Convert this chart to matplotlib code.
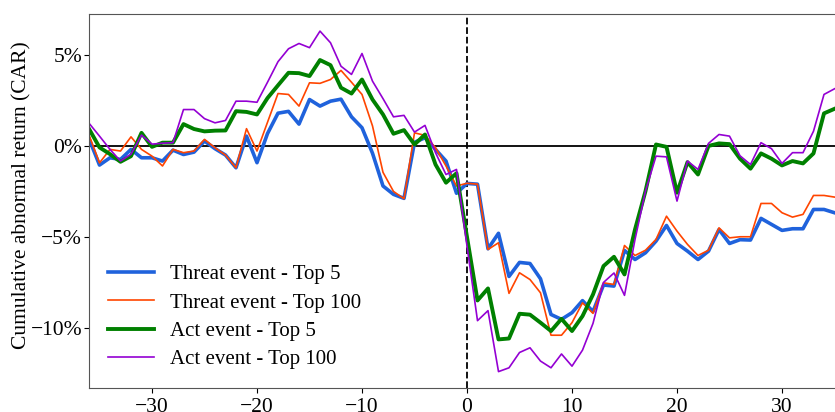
import matplotlib
matplotlib.use("Agg")
import matplotlib.pyplot as plt
from matplotlib.ticker import FuncFormatter

# Event window (days relative to event)
days = list(range(-36, 36))

# Cumulative abnormal returns in percent
threat_top5 = [
    0.4, -1.05, -0.65, -0.74, -0.19, -0.65, -0.65, -0.83, -0.23, -0.47,
    -0.34, 0.27, -0.15, -0.5, -1.2, 0.54, -0.92, 0.68, 1.8, 1.9,
    1.2, 2.55, 2.19, 2.46, 2.57, 1.6, 1.0, -0.4, -2.2, -2.66,
    -2.88, 0.2, 0.45, -0.19, -0.83, -2.6, -2.06, -2.1, -5.65, -4.8,
    -7.17, -6.4, -6.46, -7.3, -9.26, -9.53, -9.16, -8.5, -9.1, -7.64,
    -7.7, -5.74, -6.24, -5.87, -5.23, -4.37, -5.36, -5.78, -6.24, -5.78,
    -4.59, -5.36, -5.15, -5.17, -3.98, -4.31, -4.64, -4.55, -4.55, -3.49,
    -3.49, -3.67,
]
threat_top100 = [
    0.6, -0.93, -0.19, -0.28, 0.5, -0.19, -0.56, -1.1, -0.19, -0.37,
    -0.28, 0.36, -0.1, -0.5, -1.2, 0.95, -0.28, 1.3, 2.88, 2.83,
    2.19, 3.47, 3.44, 3.65, 4.15, 3.5, 2.83, 1.1, -1.45, -2.5,
    -2.9, 0.72, 0.58, -0.1, -1.1, -2.2, -2.05, -2.1, -5.69, -5.32,
    -8.1, -6.97, -7.34, -8.07, -10.4, -10.4, -9.71, -8.62, -9.2, -7.52,
    -7.61, -5.47, -6.02, -5.73, -5.14, -3.86, -4.68, -5.41, -6.02, -5.73,
    -4.5, -5.05, -4.99, -4.99, -3.16, -3.16, -3.67, -3.91, -3.76, -2.72,
    -2.72, -2.81,
]
act_top5 = [
    0.94, -0.08, -0.45, -0.87, -0.56, 0.72, -0.05, 0.18, 0.18, 1.2,
    0.93, 0.8, 0.84, 0.85, 1.91, 1.87, 1.73, 2.63, 3.33, 4.02,
    4.0, 3.84, 4.72, 4.44, 3.2, 2.88, 3.65, 2.55, 1.73, 0.67,
    0.87, 0.08, 0.63, -1.02, -2.02, -1.5, -5.0, -8.49, -7.83, -10.63,
    -10.58, -9.22, -9.27, -9.71, -10.17, -9.5, -10.17, -9.35, -8.16, -6.6,
    -6.09, -7.06, -4.59, -2.48, 0.08, -0.05, -2.57, -0.89, -1.57, 0.0,
    0.14, 0.1, -0.7, -1.25, -0.41, -0.7, -1.07, -0.83, -0.96, -0.41,
    1.79, 2.04,
]
act_top100 = [
    1.25, 0.54, -0.19, -0.83, -0.45, 0.6, 0.1, 0.15, 0.18, 2.0,
    2.0, 1.5, 1.27, 1.4, 2.46, 2.46, 2.4, 3.5, 4.63, 5.34,
    5.63, 5.4, 6.31, 5.67, 4.38, 3.93, 5.08, 3.56, 2.6, 1.6,
    1.68, 0.76, 1.13, -0.37, -1.57, -1.29, -5.5, -9.6, -9.05, -12.4,
    -12.19, -11.35, -11.09, -11.82, -12.19, -11.43, -12.1, -11.22, -9.75, -7.5,
    -6.98, -8.21, -5.14, -2.48, -0.56, -0.6, -3.03, -0.83, -1.29, 0.14,
    0.63, 0.54, -0.54, -1.02, 0.18, -0.15, -0.96, -0.37, -0.37, 0.81,
    2.83, 3.14,
]

series_labels = [
    "Threat event - Top 5",
    "Threat event - Top 100",
    "Act event - Top 5",
    "Act event - Top 100",
]
x_ticks = [-30, -20, -10, 0, 10, 20, 30]
y_ticks = [-10, -5, 0, 5]

plt.rcParams["font.family"] = ["Liberation Serif", "DejaVu Serif"]
plt.rcParams["axes.unicode_minus"] = True

fig = plt.figure(figsize=(8.35, 4.12), dpi=100)
ax = fig.add_axes([89 / 835, 24 / 412, 756 / 835, 374 / 412])

ax.plot(days, threat_top5, color="#1f62dc", lw=2.6, label=series_labels[0])
ax.plot(days, threat_top100, color="#ff4500", lw=1.2, label=series_labels[1])
ax.plot(days, act_top5, color="#008000", lw=2.8, label=series_labels[2])
ax.plot(days, act_top100, color="#9400d3", lw=1.2, label=series_labels[3])

ax.axhline(0, color="black", lw=1.3, zorder=1)
ax.axvline(0, color="black", lw=1.3, ls="--", zorder=1)

ax.set_xlim(-36, 36)
ax.set_ylim(-13.3, 7.25)
ax.set_xticks(x_ticks)
ax.set_yticks(y_ticks)
ax.yaxis.set_major_formatter(FuncFormatter(lambda v, p: f"{v:.0f}%".replace("-", "\u2212")))
ax.tick_params(labelsize=15.5)
ax.tick_params(axis="y", pad=1.5)
ax.set_ylabel("Cumulative abnormal return (CAR)", fontsize=15.5)
ax.yaxis.set_label_coords(-0.0765, 0.516)
for s in ax.spines.values():
    s.set_color("#555555")

ax.legend(loc="lower left", fontsize=15, frameon=False, handlelength=2.2,
          labelspacing=0.42, handletextpad=0.8, borderaxespad=0.5,
          bbox_to_anchor=(0.0, 0.0))

fig.savefig("out.png", dpi=100)
